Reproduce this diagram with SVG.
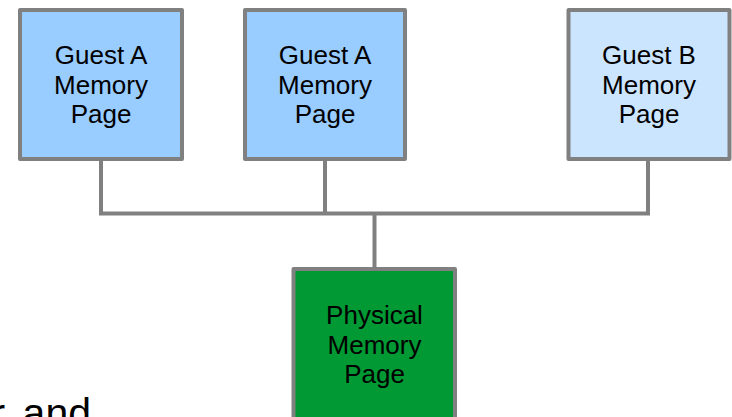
<svg xmlns="http://www.w3.org/2000/svg" width="732" height="417" viewBox="0 0 732 417">
  <style>
    .box { stroke: #808080; stroke-width: 4; stroke-linejoin: round; }
    .guest-a { fill: #99ccff; }
    .guest-b { fill: #cce5ff; }
    .phys { fill: #009933; }
    .label { font-family: "Liberation Sans", Arial, sans-serif; font-size: 26px; fill: #000; text-anchor: middle; }
    .wire { fill: none; stroke: #808080; stroke-width: 4; }
  </style>
  <rect width="732" height="417" fill="#ffffff"/>

  <g id="connectors">
    <path class="wire" d="M101 159 V213.5 H648 V159"/>
    <path class="wire" d="M325 159 V213.5"/>
    <path class="wire" d="M374.5 213.5 V269"/>
  </g>

  <g id="guest-a-page-1">
    <rect class="box guest-a" x="20" y="10" width="162" height="149"/>
    <text class="label" x="101" y="64">Guest A</text>
    <text class="label" x="101" y="94">Memory</text>
    <text class="label" x="101" y="123">Page</text>
  </g>

  <g id="guest-a-page-2">
    <rect class="box guest-a" x="245" y="10" width="160" height="149"/>
    <text class="label" x="325" y="64">Guest A</text>
    <text class="label" x="325" y="94">Memory</text>
    <text class="label" x="325" y="123">Page</text>
  </g>

  <g id="guest-b-page">
    <rect class="box guest-b" x="568.5" y="10" width="161" height="149"/>
    <text class="label" x="649" y="64">Guest B</text>
    <text class="label" x="649" y="94">Memory</text>
    <text class="label" x="649" y="123">Page</text>
  </g>

  <g id="physical-page">
    <rect class="box phys" x="293.5" y="269" width="161.5" height="170"/>
    <text class="label" x="374.5" y="324">Physical</text>
    <text class="label" x="374.5" y="353.5">Memory</text>
    <text class="label" x="374.5" y="383">Page</text>
  </g>

  <text x="91" y="427" font-family="Liberation Sans, Arial, sans-serif" font-size="41" word-spacing="6" text-anchor="end" fill="#000">r and</text>
</svg>
